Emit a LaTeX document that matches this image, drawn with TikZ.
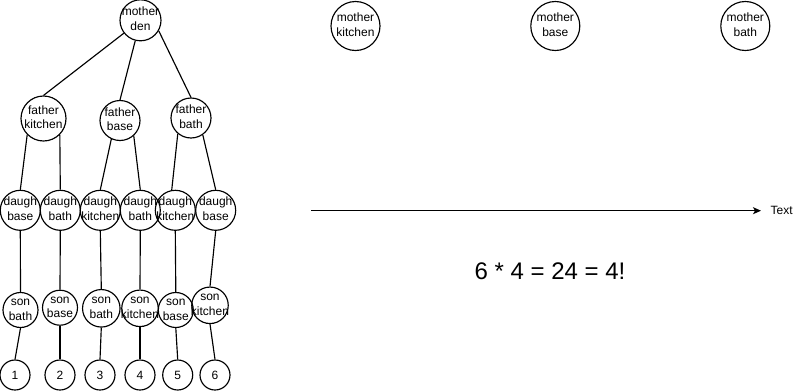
\documentclass[tikz,border=0pt]{standalone}
\usepackage{fontspec}
\setmainfont{Liberation Sans}
\usetikzlibrary{arrows.meta}

% two centred lines that do not widen the circle round them
\newcommand{\roomtext}[2]{\makebox[0pt]{\begin{tabular}{@{}c@{}}#1\\#2\end{tabular}}}

\begin{document}
\begin{tikzpicture}[
    x=1pt, y=-1pt,
    >={Stealth[length=8pt, width=7pt, inset=2pt]},
    every node/.style={font=\fontsize{12}{14.4}\selectfont},
    line width=1.15pt,
    room/.style={circle, draw, line width=1.15pt, inner sep=0pt, minimum size=#1},
    room/.default=40pt,
  ]

  % Canvas
  \fill[white] (0,0) rectangle (801,391);
  \useasboundingbox (0,0) rectangle (801,391);

  %%% ============================================================ %%%
  %%% Family tree                                                  %%%
  %%% ============================================================ %%%
  \node[room=41pt] (mden) at (140.5,20.3) {\roomtext{mother}{den}};

  % fathers
  \node[room=45pt] (fkit)  at (43.5,118.5) {\roomtext{father}{kitchen}};
  \node[room]      (fbase) at (120,120.5)  {\roomtext{father}{base}};
  \node[room]      (fbath) at (191,118)    {\roomtext{father}{bath}};

  % daughters
  \node[room] (dA) at (20.3,210.3)  {\roomtext{daugh}{base}};
  \node[room] (dB) at (60.3,210.3)  {\roomtext{daugh}{bath}};
  \node[room] (dC) at (100.3,210.3) {\roomtext{daugh}{kitchen}};
  \node[room] (dD) at (140.3,210.3) {\roomtext{daugh}{bath}};
  \node[room] (dE) at (175.3,210.3) {\roomtext{daugh}{kitchen}};
  \node[room] (dF) at (215.7,210.3) {\roomtext{daugh}{base}};

  % sons
  \node[room=35pt]   (sA) at (20.5,310)  {\roomtext{son}{bath}};
  \node[room=35pt]   (sB) at (60,307.7)  {\roomtext{son}{base}};
  \node[room=37.5pt] (sC) at (101.3,308.3) {\roomtext{son}{bath}};
  \node[room=36.5pt] (sD) at (140,308.3) {\roomtext{son}{kitchen}};
  \node[room=35pt]   (sE) at (175.8,310) {\roomtext{son}{base}};
  \node[room=36.5pt] (sF) at (210,305.3) {\roomtext{son}{kitchen}};

  % numbered leaves
  \node[room=30pt] (nA) at (15,375)    {1};
  \node[room=30pt] (nB) at (60,375)    {2};
  \node[room=30pt] (nC) at (100,375)   {3};
  \node[room=30pt] (nD) at (140,375)   {4};
  \node[room=30pt] (nE) at (177.7,375) {5};
  \node[room=30pt] (nF) at (215,375)   {6};

  % mother -> fathers
  \draw (mden) -- (fkit.north);
  \draw (mden) -- (fbase.north);
  \draw (mden.-30) -- (fbath.north);

  % fathers -> daughters
  \draw (fkit.-135) -- (dA.north);
  \draw (fkit.-45) -- (dB.north);
  \draw (fbase.-115) -- (dC.north);
  \draw (fbase.-48) -- (dD.north);
  \draw (fbath.-130) -- (dE.100);
  \draw (fbath.-55) -- (dF.north);

  % daughters -> sons
  \draw (dA.south) -- (sA.north);
  \draw (dB.south) -- (sB.north);
  \draw (dC.south) -- (sC.north);
  \draw (dD.south) -- (sD.north);
  \draw (dE.south) -- (sE.north);
  \draw (dF.south) -- (sF.north);

  % sons -> leaves
  \draw (sA.south) -- (nA.north);
  \draw (sB.south) -- (nB.north);
  \draw (sC.south) -- (nC.north);
  \draw (sD.south) -- (nD.north);
  \draw (sE.south) -- (nE.north);
  \draw (sF.south) -- (nF.north);

  %%% ============================================================ %%%
  %%% Mothers on their own                                         %%%
  %%% ============================================================ %%%
  \node[room=49pt] (mkit)  at (355.5,26) {\roomtext{mother}{kitchen}};
  \node[room=49pt] (mbase) at (555.3,26) {\roomtext{mother}{base}};
  \node[room=49pt] (mbath) at (745.3,26) {\roomtext{mother}{bath}};

  % Arrow with its label
  \coordinate (arrtail) at (311,210.7);
  \coordinate (arrhead) at (761,210.7);
  \node[anchor=west, inner sep=0pt] (arrtext) at (770,210.7) {Text};
  \draw[->] (arrtail) -- (arrhead);

  % Count
  \node[font=\fontsize{24}{28.8}\selectfont] (count) at (550,271.5)
    {6 * 4 = 24 = 4!};

\end{tikzpicture}
\end{document}
